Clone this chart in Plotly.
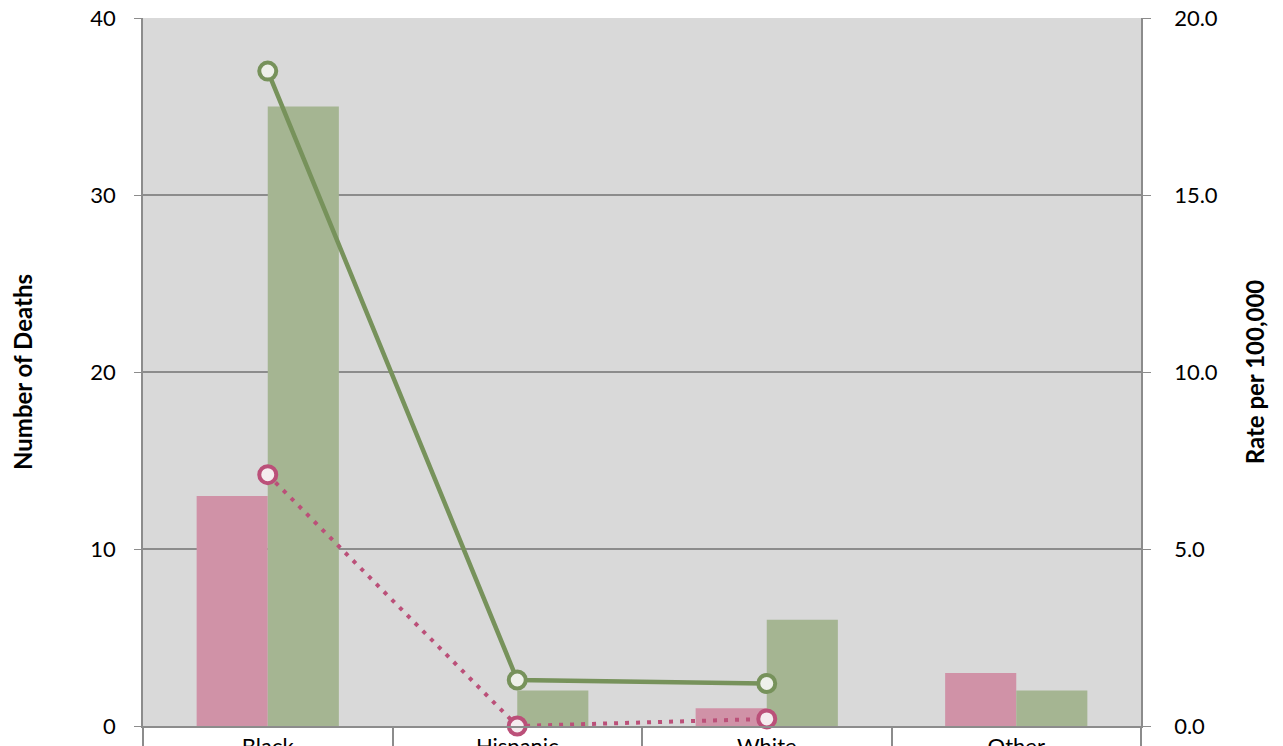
import plotly.graph_objects as go

categories = ["Black", "Hispanic", "White", "Other"]
female_deaths = [13, 0, 1, 3]
male_deaths = [35, 2, 6, 2]
rate_categories = ["Black", "Hispanic", "White"]
female_rate = [7.1, 0.0, 0.2]
male_rate = [18.5, 1.3, 1.2]

PINK_BAR = "#d092a7"
GREEN_BAR = "#a5b592"
PINK_LINE = "#bb5079"
GREEN_LINE = "#77925b"
GRID = "#8c8c8c"
FONT = "Lato"

fig = go.Figure()
fig.add_trace(go.Bar(x=categories, y=female_deaths, marker=dict(color=PINK_BAR, line=dict(width=0)), name="Female deaths"))
fig.add_trace(go.Bar(x=categories, y=male_deaths, marker=dict(color=GREEN_BAR, line=dict(width=0)), name="Male deaths"))
fig.add_trace(go.Scatter(x=rate_categories, y=male_rate, yaxis="y2", mode="lines+markers", cliponaxis=False,
                         line=dict(color=GREEN_LINE, width=4.5),
                         marker=dict(symbol="circle", size=17, color="#eef0ea", line=dict(color=GREEN_LINE, width=4)),
                         name="Male rate"))
fig.add_trace(go.Scatter(x=rate_categories, y=female_rate, yaxis="y2", mode="lines+markers", cliponaxis=False,
                         line=dict(color=PINK_LINE, width=4, dash="4px,7px"),
                         marker=dict(symbol="circle", size=17, color="#f5ecef", line=dict(color=PINK_LINE, width=4)),
                         name="Female rate"))

fig.update_layout(
    width=1275, height=738,
    margin=dict(l=135, r=142, t=10, b=20),
    paper_bgcolor="white", plot_bgcolor="#d9d9d9",
    barmode="group", bargap=0.43, bargroupgap=0,
    showlegend=False,
    font=dict(family=FONT, color="black", size=22),
    xaxis=dict(type="category", tickson="boundaries", ticks="outside", ticklen=20, tickwidth=1.5,
               tickcolor=GRID, showgrid=False, showline=True, linecolor=GRID, linewidth=2,
               ticklabelstandoff=0, tickfont=dict(size=22, family=FONT), automargin=False,
               ticklabeloverflow="allow"),
    yaxis=dict(range=[0, 40], dtick=10, showgrid=True, gridcolor=GRID, gridwidth=1.5,
               showline=True, linecolor=GRID, linewidth=1.5, ticks="outside", ticklen=7,
               tickcolor=GRID, tickfont=dict(size=22, family=FONT), zeroline=False, automargin=False,
               ticklabeloverflow="allow",
               title=dict(text="<b>Number of Deaths</b>", font=dict(size=24, family=FONT), standoff=74),
               ticklabelstandoff=14),
    yaxis2=dict(range=[0, 20], dtick=5, tickformat=".1f", overlaying="y", side="right",
                showgrid=False, showline=True, linecolor=GRID, linewidth=1.5, ticks="outside",
                ticklen=8, tickcolor=GRID, tickfont=dict(size=22, family=FONT), zeroline=False,
                automargin=False, ticklabeloverflow="allow",
                title=dict(text="<b>Rate per 100,000</b>", font=dict(size=24, family=FONT), standoff=30),
                ticklabelstandoff=19),
)

fig.write_html("out.html")
